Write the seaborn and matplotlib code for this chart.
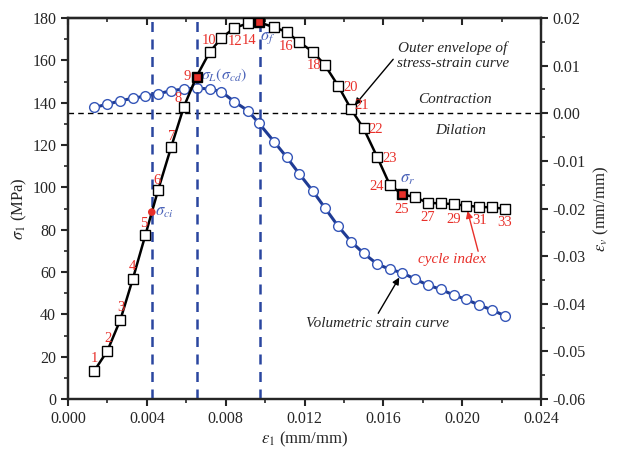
import seaborn as sns
import matplotlib.pyplot as plt
import numpy as np

# data
strain = [0.00134, 0.00200, 0.00266, 0.00329, 0.00393, 0.00457, 0.00524, 0.00588,
          0.00652, 0.00718, 0.00778, 0.00844, 0.00913, 0.00969, 0.01046, 0.01110,
          0.01174, 0.01242, 0.01303, 0.01370, 0.01437, 0.01500, 0.01569, 0.01633,
          0.01695, 0.01760, 0.01826, 0.01891, 0.01957, 0.02020, 0.02086, 0.02152,
          0.02216]
stress = [13.4, 22.8, 37.5, 56.8, 77.6, 98.7, 119.2, 138.1, 152.3, 163.8, 170.5,
          175.3, 177.5, 178.0, 175.6, 173.4, 168.5, 164.1, 157.8, 148.1, 136.8,
          127.8, 114.3, 101.1, 96.8, 95.3, 92.7, 92.4, 92.1, 91.3, 90.8, 90.5, 89.9]
vol_strain = [0.00125, 0.00188, 0.00263, 0.00314, 0.00362, 0.00410, 0.00473,
              0.00509, 0.00530, 0.00509, 0.00452, 0.00243, 0.00053, -0.00211,
              -0.00598, -0.00925, -0.01276, -0.01633, -0.01984, -0.02368, -0.02698,
              -0.02941, -0.03166, -0.03277, -0.03349, -0.03481, -0.03607, -0.03698,
              -0.03817, -0.03908, -0.04027, -0.04132, -0.04252]
cycles = list(range(1, 34))
labelled_cycles = [1, 2, 3, 4, 5, 6, 7, 8, 9, 10, 12, 14, 16, 18, 20, 21, 22, 23,
                   24, 25, 27, 29, 31, 33]
red_cycles = [9, 14, 25]

# characteristic stresses
sigma_ci = (0.00425, 88.3)
v_lines = [0.00425, 0.00654, 0.00972]

sns.set_style("ticks")
plt.rcParams["font.family"] = ["Liberation Serif", "DejaVu Serif"]
plt.rcParams["mathtext.fontset"] = "stix"

RED = "#e8302a"
BLUE_TXT = "#4a62b8"
BLUE_LINE = "#2a46a0"

fig = plt.figure(figsize=(6.2, 4.58), dpi=100)
ax = fig.add_axes([0.1097, 0.1288, 0.7629, 0.8319])
ax2 = ax.twinx()
ax.set_zorder(ax2.get_zorder() + 1)
ax.patch.set_visible(False)

# vertical dashed lines
for xv in v_lines:
    ax.axvline(xv, color=BLUE_LINE, lw=1.8, ls=(0, (4, 3)), zorder=1)

# stress-strain envelope
sns.lineplot(x=strain, y=stress, ax=ax, sort=False, estimator=None, color="black",
             lw=1.8, marker="s", markersize=6.5, markerfacecolor="white",
             markeredgecolor="black", markeredgewidth=1, zorder=4)
red_idx = [c - 1 for c in red_cycles]
sns.scatterplot(x=[strain[i] for i in red_idx], y=[stress[i] for i in red_idx], ax=ax,
                marker="s", s=40, color=RED, edgecolor="black", linewidth=1, zorder=5)
sns.scatterplot(x=[sigma_ci[0]], y=[sigma_ci[1]], ax=ax, marker="o", s=30,
                color=RED, edgecolor="none", zorder=5)

# volumetric strain curve
ax2.axhline(0, color="black", lw=1, ls=(0, (4, 3)), zorder=1)
sns.lineplot(x=strain, y=vol_strain, ax=ax2, sort=False, estimator=None,
             color="#1f3b94", lw=2.2, marker="o", markersize=7,
             markerfacecolor="white", markeredgecolor="#3556b8",
             markeredgewidth=1, zorder=3)

# cycle labels: offset in pixels from each point
offsets = {1: (0, 12), 2: (1, 12), 3: (0, 12), 4: (0, 12), 5: (-2, 11), 6: (-1, 10),
           7: (0, 10), 8: (-6, 8), 9: (-9, 0), 10: (0, 12), 12: (1, -14),
           14: (-10, -18), 16: (-1, -15), 18: (1, -14), 20: (13, -2), 21: (10, 4),
           22: (12, -1), 23: (12, -1), 24: (-13, -1), 25: (0, -15), 27: (0, -15),
           29: (0, -15), 31: (0, -14), 33: (0, -14)}
for c in labelled_cycles:
    dx, dy = offsets[c]
    ax.annotate(str(c), (strain[c - 1], stress[c - 1]), xytext=(dx, dy),
                textcoords="offset pixels", ha="center", va="center",
                color=RED, fontsize=10.5, zorder=6)

# characteristic stress labels
ax.annotate(r"$\sigma_{ci}$", sigma_ci, xytext=(12, 0), textcoords="offset pixels",
            ha="center", va="center", color=BLUE_TXT, fontsize=12)
ax.annotate(r"$\sigma_L(\sigma_{cd})$", (strain[8], stress[8]), xytext=(28, 1),
            textcoords="offset pixels", ha="center", va="center",
            color=BLUE_TXT, fontsize=11.5)
ax.annotate(r"$\sigma_f$", (strain[13], stress[13]), xytext=(9, -16),
            textcoords="offset pixels", ha="center", va="center",
            color=BLUE_TXT, fontsize=12)
ax.annotate(r"$\sigma_r$", (strain[24], stress[24]), xytext=(5, 15),
            textcoords="offset pixels", ha="center", va="center",
            color=BLUE_TXT, fontsize=12)

# descriptive annotations
ax.text(0.01954, 162, "Outer envelope of\nstress-strain curve", ha="center",
        va="center", style="italic", fontsize=11, linespacing=1.2)
ax.annotate("", (strain[20], stress[20]), xytext=(0.0165, 160.5),
            arrowprops=dict(arrowstyle="-|>", color="black", lw=1,
                            mutation_scale=10, shrinkA=0, shrinkB=4))
ax.text(0.01965, 141.5, "Contraction", style="italic", ha="center", va="center",
        fontsize=11)
ax.text(0.0199, 127, "Dilation", style="italic", ha="center", va="center",
        fontsize=11)
ax.text(0.0195, 66, "cycle index", ha="center", va="center", style="italic",
        color=RED, fontsize=11)
ax.annotate("", (strain[29], stress[29]), xytext=(0.02081, 69.8),
            arrowprops=dict(arrowstyle="-|>", color=RED, lw=1,
                            mutation_scale=10, shrinkA=0, shrinkB=4))
ax2.text(0.01569, -0.0441, "Volumetric strain curve", ha="center", va="center",
         style="italic", fontsize=11)
ax2.annotate("", (strain[24], vol_strain[24]), xytext=(0.01574, -0.0420),
             arrowprops=dict(arrowstyle="-|>", color="black", lw=1,
                             mutation_scale=10, shrinkA=0, shrinkB=4))

# axes formatting
ax.set_xlim(0, 0.024)
ax.set_ylim(0, 180)
ax2.set_ylim(-0.06, 0.02)
ax.set_xticks(np.arange(0, 0.0241, 0.004))
ax.set_xticks(np.arange(0, 0.0241, 0.002), minor=True)
ax.set_yticks(np.arange(0, 181, 20))
ax.set_yticks(np.arange(0, 181, 10), minor=True)
ax2.set_yticks(np.arange(-0.06, 0.0201, 0.01))
ax2.set_yticks(np.arange(-0.06, 0.0201, 0.005), minor=True)
ax.set_xticklabels([f"{v:.3f}" for v in np.arange(0, 0.0241, 0.004)])
ax2.set_yticklabels([f"{v:.2f}".replace("-0.00", "0.00") for v in np.arange(-0.06, 0.0201, 0.01)])

ax.set_xlabel(r"$\varepsilon_1$ (mm/mm)", fontsize=12, labelpad=2)
ax.set_ylabel(r"$\sigma_1$ (MPa)", fontsize=12, labelpad=2)
ax2.set_ylabel(r"$\varepsilon_v$ (mm/mm)", fontsize=12, labelpad=4)

for a in (ax, ax2):
    for s in a.spines.values():
        s.set_linewidth(1.6)
        s.set_visible(True)
    a.tick_params(which="major", length=5, width=1.5, labelsize=11.5, direction="out")
    a.tick_params(which="minor", length=3, width=1.2, direction="out")
ax.tick_params(axis="y", which="both", right=False)

# top axis: inward ticks, no labels
top = ax.secondary_xaxis("top")
top.set_xticks(np.arange(0, 0.0241, 0.004))
top.set_xticks(np.arange(0, 0.0241, 0.002), minor=True)
top.tick_params(which="major", direction="in", length=5, width=1.5, labeltop=False)
top.tick_params(which="minor", direction="in", length=3, width=1.2)
top.spines["top"].set_linewidth(1.6)

fig.savefig("out.png", dpi=100)
